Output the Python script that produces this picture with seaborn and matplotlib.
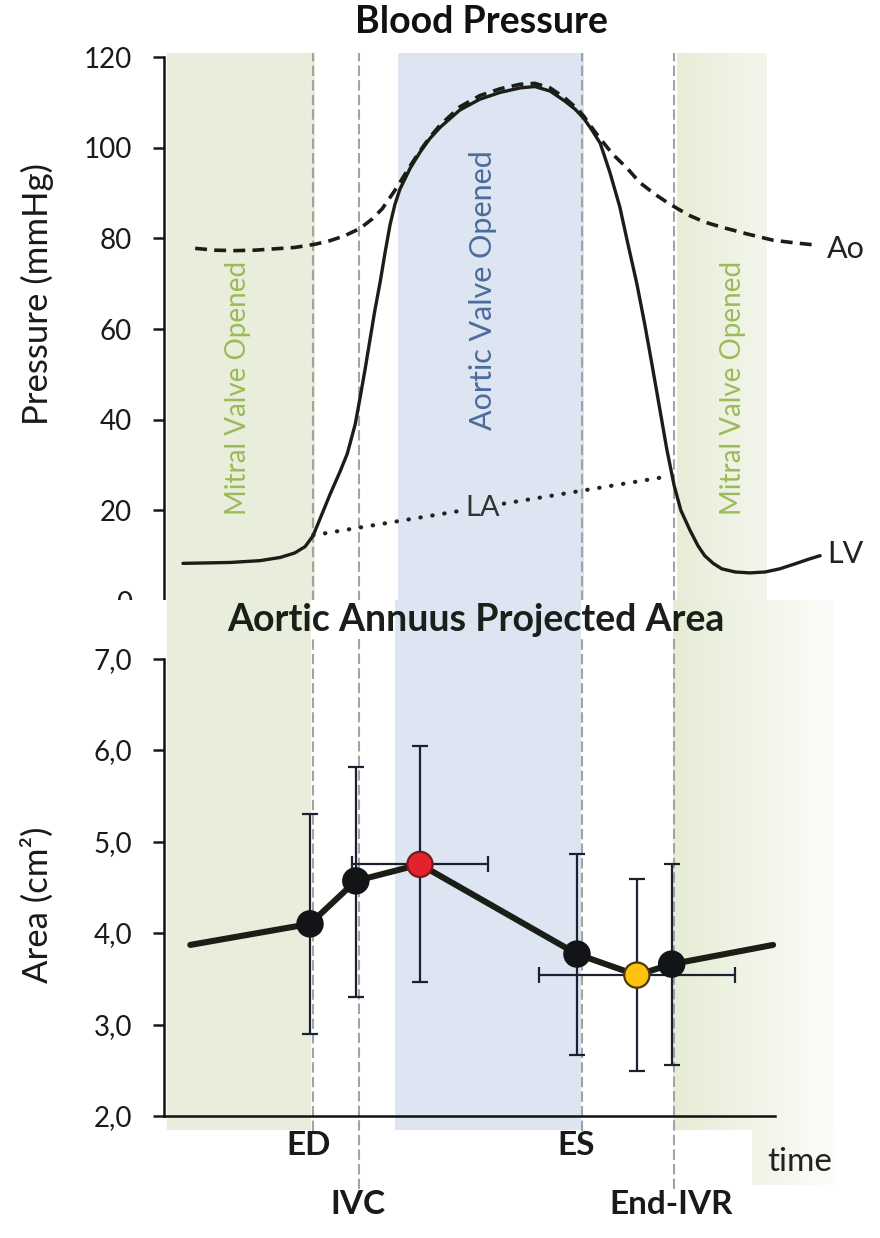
import numpy as np
import matplotlib.pyplot as plt
from matplotlib.colors import to_rgb
from matplotlib.patches import Rectangle
import seaborn as sns

# time axis in arbitrary units (0 = left spine, 100 = end of the area axis)
events = ['ED', 'IVC', 'ES', 'End-IVR']
event_t = [24.4, 31.9, 68.4, 83.5]
event_label_t = [23.7, 31.8, 67.4, 83.0]
event_label_y = [1.68, 1.03, 1.68, 1.03]
event_line_bottom = [1.84, 1.20, 1.84, 1.20]

# blood pressure traces (mmHg)
lv_t = [3.1, 10.8, 15.7, 19.0, 21.4, 23.1, 24.4, 25.5, 27.2, 28.8, 30.0, 31.3, 32.1,
        32.9, 33.7, 34.5, 35.4, 36.2, 37.0, 37.8, 38.6, 40.3, 41.9, 43.5, 45.2, 48.4,
        51.7, 55.0, 58.3, 60.7, 63.2, 65.6, 67.3, 68.7, 70.0, 71.4, 73.0, 74.6, 75.9,
        77.4, 78.7, 79.9, 81.2, 82.3, 83.5, 84.6, 86.1, 87.4, 88.5, 89.9, 91.3, 93.5,
        95.9, 98.4, 100.8, 103.3, 105.7, 107.4]
lv_p = [8.3, 8.5, 8.9, 9.6, 10.6, 12.0, 14.4, 18.0, 23.6, 28.5, 32.5, 39.0, 44.9,
        51.0, 57.5, 64.0, 70.5, 77.0, 83.0, 87.5, 90.8, 95.5, 99.0, 102.0, 104.5, 108.3,
        110.7, 112.2, 113.2, 113.5, 112.5, 110.3, 108.5, 106.5, 104.0, 101.0, 94.5, 87.0, 79.0,
        70.0, 61.0, 52.0, 42.0, 33.5, 25.5, 20.0, 15.6, 12.2, 10.0, 8.3, 7.1, 6.4,
        6.2, 6.4, 7.1, 8.2, 9.3, 10.0]
ao_t = [5.1, 8.3, 11.6, 14.9, 18.2, 21.4, 24.7, 27.2, 29.6, 32.1, 34.0, 35.7, 37.5,
        38.6, 40.3, 41.9, 43.5, 45.2, 48.4, 51.7, 55.0, 58.3, 60.7, 63.2, 65.6, 67.3,
        68.7, 70.0, 71.4, 73.5, 75.8, 77.9, 80.4, 82.3, 84.0, 86.1, 88.5, 91.5, 95.4,
        99.7, 103.3, 106.9]
ao_p = [77.8, 77.4, 77.3, 77.4, 77.7, 78.0, 78.7, 79.5, 80.6, 82.2, 84.2, 86.5, 90.0,
        92.3, 96.0, 99.3, 102.3, 105.0, 109.0, 111.5, 113.0, 114.0, 114.2, 113.2, 111.0, 109.0,
        107.0, 104.5, 102.0, 98.5, 95.5, 92.3, 89.7, 88.0, 86.6, 85.0, 83.6, 82.4, 81.0,
        79.6, 79.0, 78.5]
la_t = [24.4, 81.2]
la_p = [14.5, 27.2]

# aortic annulus projected area (cm2), mean with range
pt_t = [23.9, 31.4, 41.9, 67.6, 77.4, 83.1]
pt_area = [4.10, 4.57, 4.75, 3.77, 3.54, 3.66]
pt_lo = [2.90, 3.30, 3.46, 2.67, 2.49, 2.56]
pt_hi = [5.30, 5.82, 6.04, 4.86, 4.59, 4.75]
pt_xerr = [0, 0, 11.2, 0, 16.0, 0]
pt_kind = ['event', 'event', 'max', 'event', 'min', 'event']
line_start = (4.3, 3.87)
line_end = (99.7, 3.87)

# shaded valve phases
top_mitral1, top_aortic, top_mitral2 = (0.5, 24.7), (38.3, 68.7), (84.0, 98.7)
bot_mitral1, bot_aortic, bot_mitral2 = (0.5, 24.1), (37.8, 68.3), (83.3, 109.8)

GREEN = '#E9EDDB'
BLUE = '#DCE5F1'
DARK = '#1B1E16'
GREY = '#A3A3A3'

sns.set_theme(style='white')
plt.rcParams['font.family'] = ['Lato', 'DejaVu Sans']

W, H = 880, 1238
fig = plt.figure(figsize=(W / 100, H / 100), dpi=100)
ax1 = fig.add_axes([164 / W, 1 - 601 / H, 716 / W, 548 / H])
ax2 = fig.add_axes([164 / W, 1 - 1130 / H, 716 / W, 530 / H])


def gradient_band(ax, span, x0, x1, y0, y1, c0, c1):
    xs = np.linspace(x0, x1, 200)
    f = (xs - span[0]) / (span[1] - span[0])
    rgb = (1 - f)[:, None] * np.array(to_rgb(c0)) + f[:, None] * np.array(to_rgb(c1))
    ax.imshow(rgb[None], extent=[x0, x1, y0, y1], aspect='auto',
              interpolation='bilinear', zorder=0.5, clip_on=False)


# ---------- Blood pressure ----------
ax1.axvspan(*top_mitral1, color=GREEN, lw=0, zorder=0.5)
ax1.axvspan(*top_aortic, color=BLUE, lw=0, zorder=0.5)
gradient_band(ax1, top_mitral2, *top_mitral2, 0, 120.9, '#E8EDD8', '#F3F6EB')
for t in event_t:
    ax1.axvline(t, color=GREY, lw=1.5, ls=(0, (5, 2)), zorder=1)

sns.lineplot(x=lv_t, y=lv_p, ax=ax1, color=DARK, lw=2.4, zorder=3)
sns.lineplot(x=ao_t, y=ao_p, ax=ax1, color=DARK, lw=2.6, linestyle=(0, (3.3, 2.0)), zorder=4)
sns.lineplot(x=la_t, y=la_p, ax=ax1, color='#222222', lw=3.0,
             linestyle=(0, (0.1, 2.8)), dash_capstyle='round', zorder=3)

ax1.text(52.2, 20.5, 'LA', fontsize=21, color='#333333', ha='center', va='center', zorder=5,
         bbox=dict(facecolor=BLUE, edgecolor='none', pad=1))
ax1.text(108.5, 77.7, 'Ao', fontsize=22, color='#222222', ha='left', va='center')
ax1.text(108.5, 10.4, 'LV', fontsize=22, color='#222222', ha='left', va='center')
ax1.text(12.1, 47.0, 'Mitral Valve Opened', rotation=90, fontsize=20, color='#9BBB59',
         ha='center', va='center')
ax1.text(93.1, 47.0, 'Mitral Valve Opened', rotation=90, fontsize=20, color='#9BBB59',
         ha='center', va='center')
ax1.text(52.2, 68.6, 'Aortic Valve Opened', rotation=90, fontsize=22, color='#4B6C9C',
         ha='center', va='center')

ax1.set_xlim(0, 117.2)
ax1.set_ylim(0, 120.9)
ax1.set_yticks(range(0, 121, 20))
ax1.set_xticks([])
for s in ['top', 'right', 'bottom']:
    ax1.spines[s].set_visible(False)
ax1.spines['left'].set_bounds(0, 120)
ax1.spines['left'].set_linewidth(1.8)
ax1.spines['left'].set_color('#111111')
ax1.tick_params(axis='y', left=True, direction='out', length=8, width=1.8, pad=15,
                labelsize=20, colors='#1a1a1a')
ax1.set_xlabel('')
ax1.set_ylabel('')

# ---------- Aortic annulus area ----------
ax2.add_artist(Rectangle((0, 0), 1, 1 - 600 / H, transform=fig.transFigure,
                         facecolor='white', edgecolor='none', zorder=0.1, clip_on=False))
ax2.axvspan(*bot_mitral1, color=GREEN, lw=0, zorder=0.5)
ax2.axvspan(*bot_aortic, color=BLUE, lw=0, zorder=0.5)
gradient_band(ax2, bot_mitral2, *bot_mitral2, 1.847, 7.64, '#E6ECD5', '#FCFDFA')
gradient_band(ax2, bot_mitral2, 96.2, bot_mitral2[1], 1.25, 1.847, '#E6ECD5', '#FCFDFA')
ax2.vlines(event_t, event_line_bottom, 7.22, colors=GREY, lw=1.5,
           linestyles=[(0, (5, 2))], zorder=1, clip_on=False)

lo = np.array(pt_area) - np.array(pt_lo)
hi = np.array(pt_hi) - np.array(pt_area)
ax2.errorbar(pt_t, pt_area, yerr=[lo, hi], xerr=pt_xerr, fmt='none', ecolor='#1B2130',
             elinewidth=1.6, capsize=5.5, capthick=1.6, zorder=2.5)
line_t = [line_start[0]] + pt_t + [line_end[0]]
line_a = [line_start[1]] + pt_area + [line_end[1]]
sns.lineplot(x=line_t, y=line_a, ax=ax2, color=DARK, lw=4.4, zorder=4)
sns.scatterplot(x=pt_t, y=pt_area, hue=pt_kind, ax=ax2, legend=False, s=330, zorder=5,
                palette={'event': '#121418', 'max': '#E3222B', 'min': '#FFC20E'},
                edgecolor=['#121418', '#121418', '#7A1A1A', '#121418', '#4A3A10', '#121418'],
                linewidth=1.6)

for name, x, y in zip(events, event_label_t, event_label_y):
    ax2.text(x, y, name, fontsize=24, fontweight='bold', color='#1a1a1a',
             ha='center', va='center')
ax2.text(104.1, 1.50, 'time', fontsize=24, color='#222222', ha='center', va='center')

ax2.set_xlim(0, 117.2)
ax2.set_ylim(1.847, 7.64)
ax2.set_yticks(range(2, 8))
ax2.set_yticklabels([f'{v},0' for v in range(2, 8)])
ax2.set_xticks([])
for s in ['top', 'right']:
    ax2.spines[s].set_visible(False)
ax2.spines['bottom'].set_position(('data', 2.0))
ax2.spines['bottom'].set_bounds(0, 100)
ax2.spines['left'].set_bounds(2, 7)
for s in ['left', 'bottom']:
    ax2.spines[s].set_linewidth(1.8)
    ax2.spines[s].set_color('#111111')
ax2.tick_params(axis='y', left=True, direction='out', length=8, width=1.8, pad=15,
                labelsize=20, colors='#1a1a1a')
ax2.set_xlabel('')
ax2.set_ylabel('')

# titles and axis labels
fig.text(481 / W, 1 - 22 / H, 'Blood Pressure', fontsize=27, fontweight='bold',
         color='#111111', ha='center', va='center')
fig.text(476 / W, 1 - 620 / H, 'Aortic Annuus Projected Area', fontsize=27,
         fontweight='bold', color='#1a1f1a', ha='center', va='center')
fig.text(37 / W, 1 - 294 / H, 'Pressure (mmHg)', fontsize=25, rotation=90,
         color='#1a1a1a', ha='center', va='center')
fig.text(37 / W, 1 - 905 / H, 'Area (cm²)', fontsize=25, rotation=90,
         color='#1a1a1a', ha='center', va='center')

fig.savefig('out.png', dpi=100)
